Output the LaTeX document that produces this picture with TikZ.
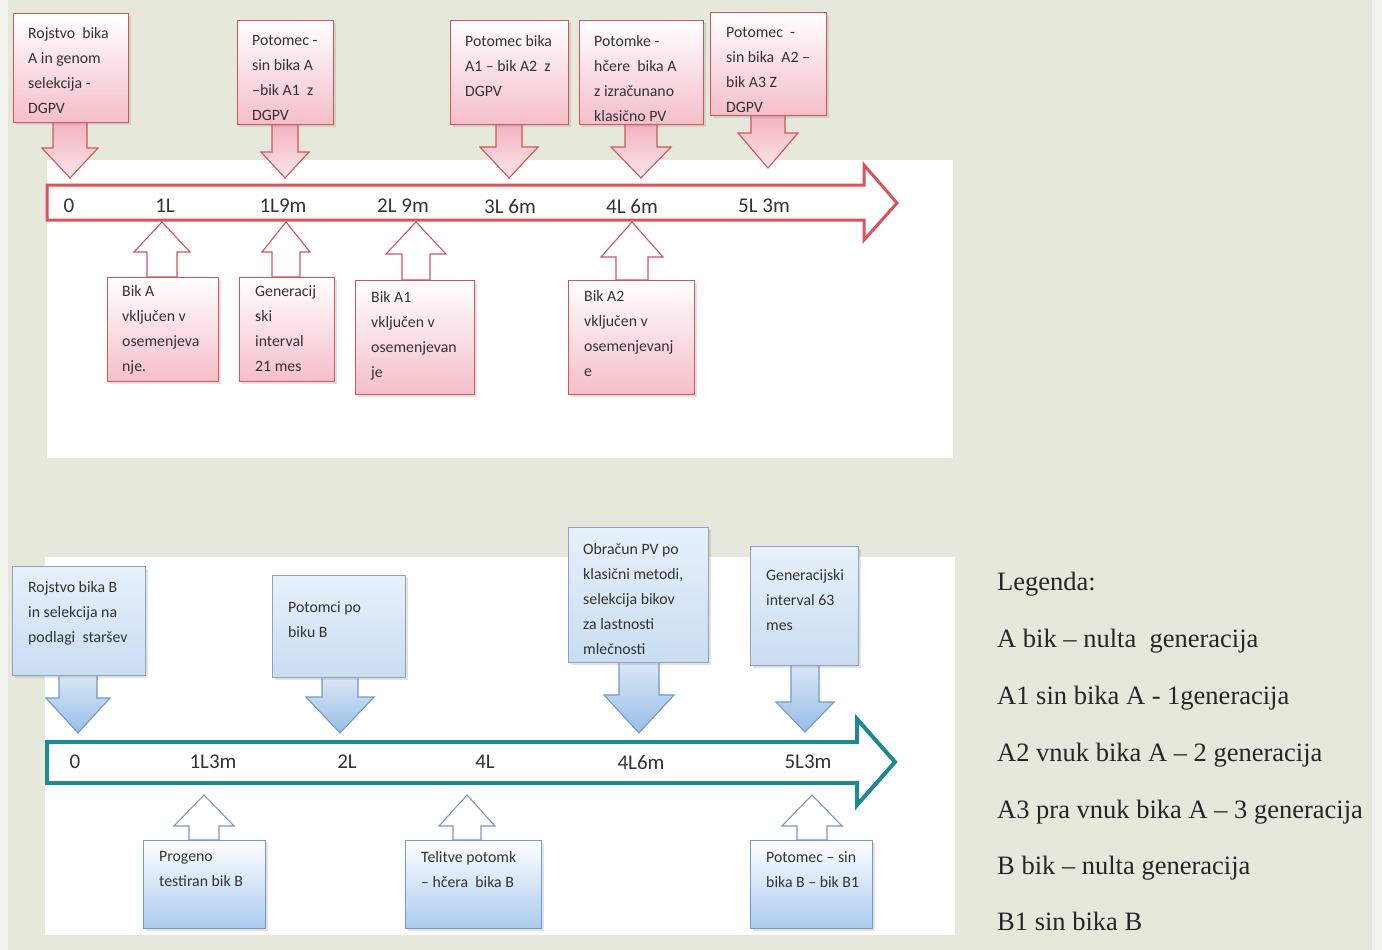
\documentclass[tikz,border=0pt]{standalone}
\usepackage{fontspec}
\setmainfont{Carlito}
\newfontfamily\legfont{Liberation Serif}
\usetikzlibrary{shadows}
\definecolor{bgc}{HTML}{E6E8DC}
\definecolor{bgl}{HTML}{F1F3EC}
\definecolor{redline}{HTML}{D9545A}
\definecolor{redbord}{HTML}{D2555E}
\definecolor{pinkb}{HTML}{F5BEC8}
\definecolor{pinka}{HTML}{F2B3BE}
\definecolor{pinkt}{HTML}{FBE6EA}
\definecolor{teal}{HTML}{1F8A8E}
\definecolor{bluebord}{HTML}{8FA3BC}
\definecolor{blueline}{HTML}{7397D0}
\definecolor{blueta}{HTML}{E8F1FA}
\definecolor{bluetb}{HTML}{C9DDF2}
\definecolor{bluedb}{HTML}{AACBEE}
\definecolor{bluearrA}{HTML}{D9E8F6}
\definecolor{bluearrB}{HTML}{98BDE6}
\definecolor{txtc}{HTML}{333333}
\newcommand{\blockarr}[7]{%
  \path[#1] (#2-#6,#3) -- (#2+#6,#3) -- (#2+#6,#4) -- (#2+#7,#4) -- (#2,#5)
    -- (#2-#7,#4) -- (#2-#6,#4) -- cycle;}
\tikzset{
  shad/.style={drop shadow={opacity=0.22, shadow xshift=2pt, shadow yshift=-2.5pt}},
  redbox/.style={draw=redbord, line width=1.1pt, top color=white, bottom color=pinkb, shad,
    anchor=north west, inner sep=0pt},
  bluebox/.style={draw=bluebord, line width=1.1pt, top color=blueta, bottom color=bluetb, shad,
    anchor=north west, inner sep=0pt},
  blueboxd/.style={draw=blueline, line width=1.1pt, top color=white, bottom color=bluedb, shad,
    anchor=north west, inner sep=0pt},
  rdarr/.style={draw=redbord, line width=1.1pt, top color=pinka, bottom color=pinkt},
  ruarr/.style={draw=redbord, line width=1.1pt, fill=white},
  bdarr/.style={draw=blueline, line width=1.1pt, top color=bluearrA, bottom color=bluearrB},
  buarr/.style={draw=blueline, line width=1.1pt, fill=white},
  btxt/.style={anchor=north west, inner sep=0pt, align=left,
    font=\fontsize{15.8}{25}\selectfont, text=txtc},
  tl/.style={font=\fontsize{21}{21}\selectfont, text=txtc, inner sep=0pt},
  leg/.style={anchor=base west, inner sep=0pt, font=\legfont\fontsize{26.5}{26}\selectfont, text=black!85},
}
\begin{document}
\begin{tikzpicture}[x=1pt,y=-1pt]
\useasboundingbox (0,0) rectangle (1382,950);
% background
\fill[bgc] (0,0) rectangle (1382,950);
\fill[bgl] (0,0) rectangle (8,950);
\fill[bgl] (1372,0) rectangle (1382,950);
\fill[white] (47,160) rectangle (953,458);
\fill[white] (45,557) rectangle (955,935);

% ===== top timeline =====
\draw[redline, line width=3pt, fill=white, line join=miter]
  (47,185) -- (864,185) -- (864,165) -- (897,203) -- (864,240) -- (864,220) -- (47,220) -- cycle;
\node[tl] (ta0) at (69,206) {0};
\node[tl] (ta1) at (165,206) {1L};
\node[tl] (ta2) at (283,206) {1L9m};
\node[tl] (ta3) at (403,206) {2L 9m};
\node[tl] (ta4) at (510,206) {3L 6m};
\node[tl] (ta5) at (632,206) {4L 6m};
\node[tl] (ta6) at (764,206) {5L 3m};

% red down arrows
\blockarr{rdarr}{70}{122}{148}{178}{17}{28}
\blockarr{rdarr}{285}{124}{152}{178}{13}{24}
\blockarr{rdarr}{509}{124}{147}{178}{13}{29}
\blockarr{rdarr}{641}{124}{147}{178}{16}{30}
\blockarr{rdarr}{768}{115}{133}{168}{17}{30}
% red up arrows
\blockarr{ruarr}{162}{277}{252}{222}{15}{28}
\blockarr{ruarr}{286}{277}{252}{222}{14}{24}
\blockarr{ruarr}{416}{280}{254}{222}{14}{30}
\blockarr{ruarr}{632}{280}{257}{222}{16}{31}

% top boxes
\node[redbox, minimum width=115, minimum height=109] (a0) at (13,13) {};
\node[redbox, minimum width=96, minimum height=104] (a1) at (237,20) {};
\node[redbox, minimum width=118, minimum height=104] (a2) at (450,20) {};
\node[redbox, minimum width=124, minimum height=104] (a3) at (579,20) {};
\node[redbox, minimum width=116, minimum height=103] (a4) at (710,12) {};
\node[btxt] (a0t) at (28,27) {Rojstvo\ \ bika\\A in genom\\selekcija -\\DGPV};
\node[btxt] (a1t) at (252,35) {Potomec -\\sin bika A\\–bik A1\ \ z\\DGPV};
\node[btxt] (a2t) at (465,35) {Potomec bika\\A1 – bik A2\ \ z\\DGPV};
\node[btxt] (a3t) at (594,35) {Potomke -\\hčere\ \ bika A\\z izračunano\\klasično PV};
\node[btxt] (a4t) at (726,27) {Potomec\ \ -\\sin bika\ \ A2 –\\bik A3 Z\\DGPV};

% lower boxes (top section)
\node[redbox, minimum width=111, minimum height=104] (b0) at (107,277) {};
\node[redbox, minimum width=95, minimum height=104] (b1) at (239,277) {};
\node[redbox, minimum width=119, minimum height=114] (b2) at (355,280) {};
\node[redbox, minimum width=126, minimum height=114] (b3) at (568,280) {};
\node[btxt] (b0t) at (122,285) {Bik A\\vključen v\\osemenjeva\\nje.};
\node[btxt] (b1t) at (255,285) {Generacij\\ski\\interval\\21 mes};
\node[btxt] (b2t) at (371,291) {Bik A1\\vključen v\\osemenjevan\\je};
\node[btxt] (b3t) at (584,290) {Bik A2\\vključen v\\osemenjevanj\\e};

% ===== bottom timeline =====
\draw[teal, line width=4pt, fill=white, line join=miter]
  (47,742) -- (857,742) -- (857,719) -- (895,762) -- (857,805) -- (857,783) -- (47,783) -- cycle;
\node[tl] (tb0) at (75,762) {0};
\node[tl] (tb1) at (213,762) {1L3m};
\node[tl] (tb2) at (347,762) {2L};
\node[tl] (tb3) at (485,762) {4L};
\node[tl] (tb4) at (641,762) {4L6m};
\node[tl] (tb5) at (808,762) {5L3m};

% blue down arrows
\blockarr{bdarr}{78}{675}{698}{733}{19}{32}
\blockarr{bdarr}{340}{677}{697}{733}{18}{34}
\blockarr{bdarr}{639}{662}{695}{733}{20}{35}
\blockarr{bdarr}{805}{665}{702}{732}{14}{29}
% blue up arrows
\blockarr{buarr}{204}{840}{826}{795}{15}{30}
\blockarr{buarr}{467}{840}{826}{795}{14}{28}
\blockarr{buarr}{812}{840}{826}{795}{15}{30}

% bottom section boxes
\node[bluebox, minimum width=133, minimum height=109] (c0) at (12,566) {};
\node[bluebox, minimum width=133, minimum height=102] (c1) at (272,575) {};
\node[bluebox, minimum width=140, minimum height=135] (c2) at (568,527) {};
\node[bluebox, minimum width=108, minimum height=119] (c3) at (750,546) {};
\node[btxt] (c0t) at (28,581) {Rojstvo bika B\\in selekcija na\\podlagi\ \ staršev};
\node[btxt] (c1t) at (288,601) {Potomci po\\biku B};
\node[btxt] (c2t) at (583,543) {Obračun PV po\\klasični metodi,\\selekcija bikov\\za lastnosti\\mlečnosti};
\node[btxt] (c3t) at (766,569) {Generacijski\\interval 63\\mes};

\node[blueboxd, minimum width=122, minimum height=88] (d0) at (143,840) {};
\node[blueboxd, minimum width=136, minimum height=88] (d1) at (405,840) {};
\node[blueboxd, minimum width=122, minimum height=88] (d2) at (750,840) {};
\node[btxt] (d0t) at (159,851) {Progeno\\testiran bik B};
\node[btxt] (d1t) at (421,851) {Telitve potomk\\– hčera\ \ bika B};
\node[btxt] (d2t) at (766,851) {Potomec – sin\\bika B – bik B1};

% ===== legend =====
\node[leg] (l0) at (997,590) {Legenda:};
\node[leg] (l1) at (997,647) {A bik – nulta\ \ generacija};
\node[leg] (l2) at (997,704) {A1 sin bika A - 1generacija};
\node[leg] (l3) at (997,761) {A2 vnuk bika A – 2 generacija};
\node[leg] (l4) at (997,818) {A3 pra vnuk bika A – 3 generacija};
\node[leg] (l5) at (997,874) {B bik – nulta generacija};
\node[leg] (l6) at (997,930) {B1 sin bika B};
\end{tikzpicture}
\end{document}
